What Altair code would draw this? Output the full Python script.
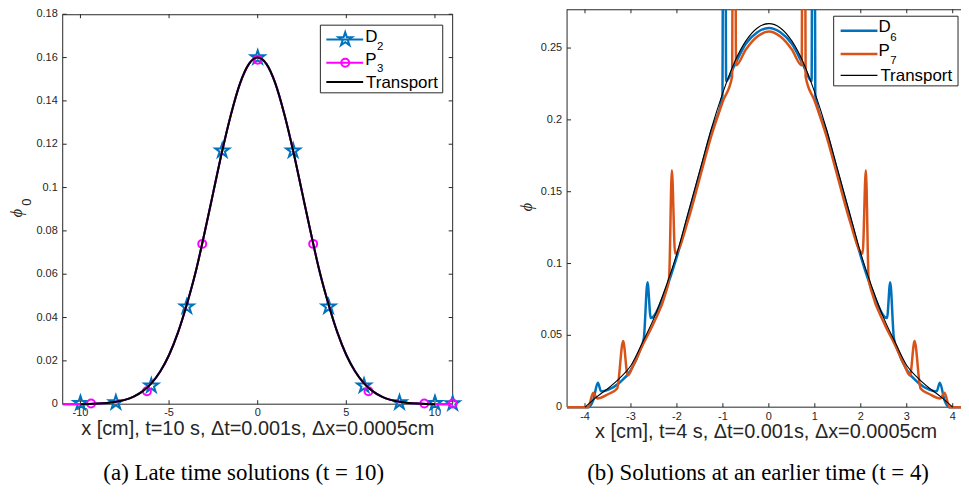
import altair as alt
import pandas as pd

# ---------------- colours / fonts ----------------
FONT = "Liberation Sans"
SERIF = "Liberation Serif"
AX = "#262626"
BLUE = "#0072BD"
ORANGE = "#D95319"
MAGENTA = "#FF00FF"
STAR = ("M0,-1L0.225,-0.309L0.951,-0.309L0.363,0.118L0.588,0.809L0,0.382L-0.588,0.809"
        "L-0.363,0.118L-0.951,-0.309L-0.225,-0.309Z")

# ---------------- left panel data (t = 10) ----------------
L_X = [-11, -10.5, -10, -9.5, -9, -8.5, -8, -7.5, -7, -6.5, -6, -5.5, -5, -4.5, -4, -3.5,
       -3, -2.5, -2, -1.5, -1, -0.5, 0, 0.5, 1, 1.5, 2, 2.5, 3, 3.5, 4, 4.5, 5, 5.5, 6,
       6.5, 7, 7.5, 8, 8.5, 9, 9.5, 10, 10.5, 11]
L_PHI = [0, 0, 0, 0.0001, 0.0003, 0.0006, 0.0011, 0.0020, 0.0035, 0.0059, 0.0096, 0.0151,
         0.0227, 0.033, 0.046, 0.061, 0.079, 0.098, 0.117, 0.134, 0.148, 0.157, 0.160,
         0.157, 0.148, 0.134, 0.117, 0.098, 0.079, 0.061, 0.046, 0.033, 0.0227, 0.0151,
         0.0096, 0.0059, 0.0035, 0.0020, 0.0011, 0.0006, 0.0003, 0.0001, 0, 0, 0]
D2_MX = [-10, -8, -6, -4, -2, 0, 2, 4, 6, 8, 10, 11]
D2_MY = [0.0005, 0.0008, 0.0085, 0.045, 0.117, 0.160, 0.117, 0.045, 0.0085, 0.0008, 0.0005, 0.0003]
P3_MX = [-9.4, -6.25, -3.13, 0, 3.13, 6.25, 9.4, 11]
P3_MY = [0.0003, 0.006, 0.074, 0.159, 0.074, 0.006, 0.0003, 0.0003]
L_XTICKS = [-10, -5, 0, 5, 10]
L_YTICKS = [0, 0.02, 0.04, 0.06, 0.08, 0.1, 0.12, 0.14, 0.16, 0.18]

# ---------------- right panel data (t = 4) ----------------
T_X = [-4, -3.75, -3.5, -3.25, -3, -2.75, -2.5, -2.25, -2, -1.75, -1.5, -1.25, -1, -0.75,
       -0.5, -0.25, 0, 0.25, 0.5, 0.75, 1, 1.25, 1.5, 1.75, 2, 2.25, 2.5, 2.75, 3, 3.25,
       3.5, 3.75, 4]
T_Y = [0, 0.007, 0.013, 0.020, 0.029, 0.045, 0.062, 0.083, 0.107, 0.136, 0.165, 0.194,
       0.219, 0.240, 0.255, 0.264, 0.267, 0.264, 0.255, 0.240, 0.219, 0.194, 0.165,
       0.136, 0.107, 0.083, 0.062, 0.045, 0.029, 0.020, 0.013, 0.007, 0]
D6_X = [-4.39, -3.92, -3.82, -3.72, -3.65, -3.5, -3.25, -3.0, -2.8, -2.72, -2.64, -2.57,
        -2.25, -2.0, -1.75, -1.5, -1.25, -1.01, -0.99, -0.95, -0.93, -0.75, -0.5, -0.25,
        0, 0.25, 0.5, 0.75, 0.93, 0.95, 0.99, 1.01, 1.25, 1.5, 1.75, 2.0, 2.25, 2.57,
        2.64, 2.72, 2.8, 3.0, 3.25, 3.5, 3.65, 3.72, 3.82, 3.92, 4.4]
D6_Y = [0, 0, 0.005, 0.017, 0.011, 0.012, 0.017, 0.026, 0.040, 0.048, 0.087, 0.062,
        0.081, 0.105, 0.134, 0.163, 0.192, 0.217, 0.45, 0.45, 0.227, 0.238, 0.253, 0.261,
        0.264, 0.261, 0.253, 0.238, 0.227, 0.45, 0.45, 0.217, 0.192, 0.163, 0.134, 0.105,
        0.081, 0.062, 0.087, 0.048, 0.040, 0.026, 0.017, 0.012, 0.011, 0.017, 0.005, 0, 0]
P7_X = [-4.39, -3.93, -3.82, -3.73, -3.5, -3.30, -3.17, -3.07, -2.95, -2.75, -2.5, -2.25,
        -2.17, -2.11, -2.04, -1.75, -1.5, -1.25, -1.0, -0.80, -0.775, -0.735, -0.715,
        -0.5, -0.25, 0, 0.25, 0.5, 0.715, 0.735, 0.775, 0.80, 1.0, 1.25, 1.5, 1.75, 2.04,
        2.11, 2.17, 2.25, 2.5, 2.75, 2.95, 3.07, 3.17, 3.30, 3.5, 3.73, 3.82, 3.93, 4.4]
P7_Y = [0, 0, 0.010, 0.006, 0.009, 0.013, 0.046, 0.022, 0.029, 0.043, 0.059, 0.079,
        0.090, 0.165, 0.107, 0.131, 0.160, 0.189, 0.213, 0.230, 0.45, 0.45, 0.238,
        0.249, 0.258, 0.2615, 0.258, 0.249, 0.238, 0.45, 0.45, 0.230, 0.213, 0.189,
        0.160, 0.131, 0.107, 0.165, 0.090, 0.079, 0.059, 0.043, 0.029, 0.022, 0.046,
        0.013, 0.009, 0.006, 0.010, 0, 0]
R_XTICKS = [-4, -3, -2, -1, 0, 1, 2, 3, 4]
R_YTICKS = [0, 0.05, 0.1, 0.15, 0.2, 0.25]

# ---------------- layout (pixels inside the drawing) ----------------
W, H = 958, 485
L_LEFT, L_RIGHT, L_TOP, L_BOT = 55, 447, 5, 397
R_LEFT, R_RIGHT, R_TOP, R_BOT = 562, 958, 0, 400

ONE = pd.DataFrame({"k": [0]})


def df(xs, ys=None):
    if ys is None:
        return pd.DataFrame({"x": xs})
    return pd.DataFrame({"x": xs, "y": ys})


def rule(x, x2, y, y2, color=AX, width=1):
    return alt.Chart(ONE).mark_rule(color=color, strokeWidth=width).encode(
        x=alt.value(x), x2=alt.value(x2), y=alt.value(y), y2=alt.value(y2))


def txt(s, x, y, size, color="black", font=FONT, align="left", baseline="alphabetic", **kw):
    return alt.Chart(ONE).mark_text(text=s, align=align, baseline=baseline, font=font,
                                    fontSize=size, color=color, **kw).encode(
        x=alt.value(x), y=alt.value(y))


def panel_axes(X, Y, xticks, yticks, left, right, top, bot, xlab_y, frame_right=True):
    layers = [
        rule(left, right, top + 0.5, top + 0.5), rule(left, right, bot, bot),
        rule(left, left, top, bot),
        alt.Chart(df(xticks)).mark_rule(color=AX, strokeWidth=1).encode(
            x=X, y=alt.value(bot), y2=alt.value(bot - 4)),
        alt.Chart(df(xticks)).mark_rule(color=AX, strokeWidth=1).encode(
            x=X, y=alt.value(top), y2=alt.value(top + 4)),
        alt.Chart(pd.DataFrame({"y": yticks})).mark_rule(color=AX, strokeWidth=1).encode(
            y=Y, x=alt.value(left), x2=alt.value(left + 4)),
        alt.Chart(df(xticks)).transform_calculate(label="'' + datum.x").mark_text(
            font=FONT, fontSize=11, color=AX, align="center", baseline="middle").encode(
            x=X, y=alt.value(xlab_y), text="label:N"),
        alt.Chart(pd.DataFrame({"y": yticks})).transform_calculate(label="'' + datum.y").mark_text(
            font=FONT, fontSize=11, color=AX, align="right", baseline="middle").encode(
            y=Y, x=alt.value(left - 5), text="label:N"),
    ]
    if frame_right:
        layers += [
            rule(right, right, top, bot),
            alt.Chart(pd.DataFrame({"y": yticks})).mark_rule(color=AX, strokeWidth=1).encode(
                y=Y, x=alt.value(right), x2=alt.value(right - 4)),
        ]
    return layers


# ================= LEFT PANEL =================
LX = alt.X("x:Q", scale=alt.Scale(domain=[-11, 11], range=[L_LEFT, L_RIGHT], nice=False,
                                  zero=False), axis=None)
LY = alt.Y("y:Q", scale=alt.Scale(domain=[0, 0.18], range=[L_BOT, L_TOP], nice=False,
                                  zero=False), axis=None)

left_layers = panel_axes(LX, LY, L_XTICKS, L_YTICKS, L_LEFT, L_RIGHT, L_TOP, L_BOT, 406) + [
    # D2
    alt.Chart(df(L_X, L_PHI)).mark_line(color=BLUE, strokeWidth=2, interpolate="monotone").encode(
        x=LX, y=LY),
    alt.Chart(df(D2_MX, D2_MY)).mark_point(shape=STAR, filled=False, color=BLUE, size=210,
                                            strokeWidth=2, opacity=1).encode(x=LX, y=LY),
    # P3
    alt.Chart(df(L_X, L_PHI)).mark_line(color=MAGENTA, strokeWidth=2, interpolate="monotone").encode(
        x=LX, y=LY),
    alt.Chart(df(P3_MX, P3_MY)).mark_point(shape="circle", filled=False, color=MAGENTA, size=64,
                                            strokeWidth=2, opacity=1).encode(x=LX, y=LY),
    # Transport
    alt.Chart(df(L_X, L_PHI)).transform_filter("datum.x >= -10 && datum.x <= 10").mark_line(
        color="black", strokeWidth=2, interpolate="monotone").encode(x=LX, y=LY),
    # axis titles
    txt("x [cm], t=10 s, \u0394t=0.001s, \u0394x=0.0005cm", 251, 422, 20, color=AX,
        align="center", baseline="middle"),
    txt("\u03d5", 9, 205, 17, color=AX, font=SERIF, align="center", baseline="middle",
        angle=270, fontStyle="italic"),
    txt("0", 19.5, 194, 13, color=AX, align="center", baseline="middle", angle=270),
    # legend
    alt.Chart(ONE).mark_rect(fill="white", stroke=AX, strokeWidth=1).encode(
        x=alt.value(314), x2=alt.value(437), y=alt.value(16), y2=alt.value(84)),
    rule(320, 357, 30.3, 30.3, BLUE, 2),
    alt.Chart(ONE).mark_point(shape=STAR, filled=False, color=BLUE, size=210, strokeWidth=2,
                              opacity=1).encode(x=alt.value(339), y=alt.value(30.3)),
    rule(320, 357, 53.7, 53.7, MAGENTA, 2),
    alt.Chart(ONE).mark_point(shape="circle", filled=False, color=MAGENTA, size=64,
                              strokeWidth=2, opacity=1).encode(x=alt.value(339), y=alt.value(53.7)),
    rule(320, 357, 73, 73, "black", 2),
    txt("D", 359, 32.5, 17), txt("2", 371, 40.5, 11.5),
    txt("P", 359, 56, 17), txt("3", 371, 63.5, 11.5),
    txt("Transport", 360, 79, 17),
    # caption
    txt("(a) Late time solutions (t = 10)", 237, 466, 23, font=SERIF, align="center",
        baseline="middle"),
]
left = alt.layer(*left_layers)

# ================= RIGHT PANEL =================
RX = alt.X("x:Q", scale=alt.Scale(domain=[-4.39, 4.18], range=[R_LEFT, R_RIGHT], nice=False,
                                  zero=False), axis=None)
RY = alt.Y("y:Q", scale=alt.Scale(domain=[0, 0.25], range=[R_BOT, 39], nice=False,
                                  zero=False), axis=None)

right_layers = panel_axes(RX, RY, R_XTICKS, R_YTICKS, R_LEFT, R_RIGHT, R_TOP, R_BOT, 409.5,
                          frame_right=False) + [
    alt.Chart(df(D6_X, D6_Y)).mark_line(color=BLUE, strokeWidth=2.5, interpolate="monotone",
                                        clip=True).encode(x=RX, y=RY),
    alt.Chart(df(P7_X, P7_Y)).mark_line(color=ORANGE, strokeWidth=2.5, interpolate="monotone",
                                        clip=True).encode(x=RX, y=RY),
    alt.Chart(df(T_X, T_Y)).mark_line(color="black", strokeWidth=1.1, interpolate="monotone",
                                      clip=True).encode(x=RX, y=RY),
    txt("x [cm], t=4 s, \u0394t=0.001s, \u0394x=0.0005cm", 762, 425, 20, color=AX,
        align="center", baseline="middle"),
    txt("\u03d5", 522, 199, 17, color=AX, font=SERIF, align="center", baseline="middle",
        angle=270, fontStyle="italic"),
    # legend
    alt.Chart(ONE).mark_rect(fill="white", stroke=AX, strokeWidth=1).encode(
        x=alt.value(830), x2=alt.value(955), y=alt.value(7), y2=alt.value(77)),
    rule(837, 874, 21.5, 21.5, BLUE, 2.5),
    rule(837, 874, 45, 45, ORANGE, 2.5),
    rule(837, 874, 66.5, 66.5, "black", 1.1),
    txt("D", 875, 22.5, 17), txt("6", 887, 31.5, 11.5),
    txt("P", 875, 46.5, 17), txt("7", 887, 55, 11.5),
    txt("Transport", 877, 72.5, 17),
    txt("(b) Solutions at an earlier time (t = 4)", 754, 466, 23, font=SERIF, align="center",
        baseline="middle"),
]
right = alt.layer(*right_layers)

chart = alt.layer(left, right).resolve_scale(x="independent", y="independent").properties(
    width=W, height=H, padding=0, background="white",
    autosize=alt.AutoSizeParams(type="none"),
).configure_view(strokeWidth=0)

chart.save("out.html", embed_options={"renderer": "svg", "actions": False})
